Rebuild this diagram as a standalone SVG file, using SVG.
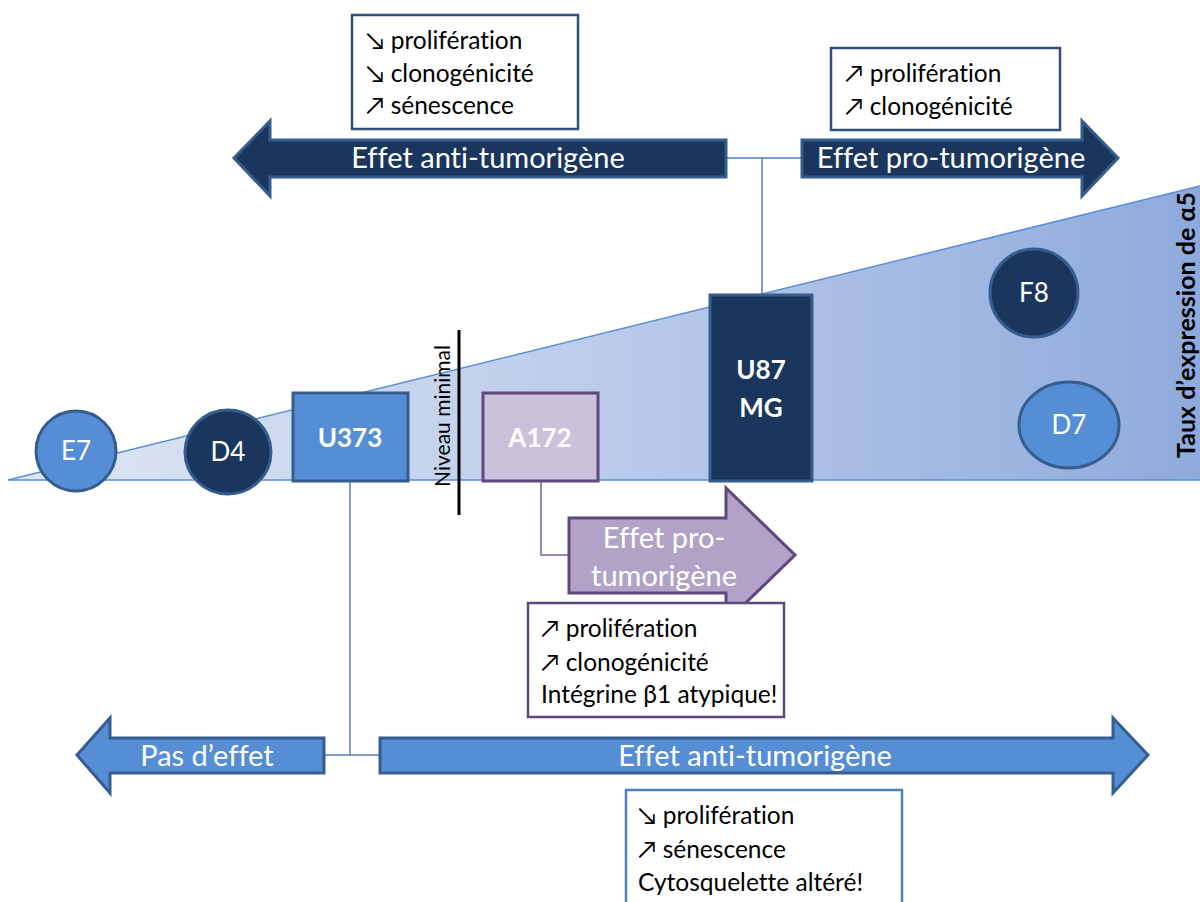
<svg xmlns="http://www.w3.org/2000/svg" width="1200" height="902" viewBox="0 0 1200 902">
<defs>
<linearGradient id="tri" x1="0" y1="0" x2="1" y2="0">
<stop offset="0" stop-color="#dfe7f5"/>
<stop offset="0.5" stop-color="#bccbea"/>
<stop offset="1" stop-color="#8eaadc"/>
</linearGradient>
<style>
text{font-family:Lato,"Liberation Sans",sans-serif;font-variant-ligatures:none;}
.b{fill:#000000;font-size:24.5px;}
.lbl{fill:#ffffff;text-anchor:middle;}
.node{fill:#ffffff;font-size:26px;text-anchor:middle;}
.box{fill:#ffffff;stroke-width:2.5;}
.conn{fill:none;stroke:#4f81bd;stroke-width:1.5;}
.dark{fill:#1b365d;stroke:#355d8f;stroke-width:3;}
.mid{fill:#558ed5;stroke:#355d8f;stroke-width:3;}
</style>
</defs>
<rect width="1200" height="902" fill="#ffffff"/>
<g id="triangle">
<polygon points="8,480 1200,186 1200,480" fill="url(#tri)"/>
<polyline points="8,480 1200,186" fill="none" stroke="#5b8fd6" stroke-width="1.5"/>
<line x1="8" y1="480" x2="1200" y2="480" stroke="#5b8fd6" stroke-width="1.5"/>
</g>
<g id="connectors">
<polyline class="conn" points="726,158 802,158"/>
<polyline class="conn" points="762,158 762,295"/>
<polyline class="conn" points="350,481 350,755"/>
<polyline class="conn" points="325,755 380,755"/>
<polyline points="541,481 541,555 570,555" fill="none" stroke="#7a5f9a" stroke-width="1.5"/>
</g>
<g id="arrow-anti-top">
<polygon class="dark" points="726,140 726,177 270,177 270,196 234,158 270,121 270,140"/>
<text class="lbl" x="488" y="168" font-size="29">Effet anti-tumorigène</text>
</g>
<g id="arrow-pro-top">
<polygon class="dark" points="802,140 1082,140 1082,121 1118,158 1082,196 1082,177 802,177"/>
<text class="lbl" x="951" y="168" font-size="29">Effet pro-tumorigène</text>
</g>
<g id="box-top-left">
<rect class="box" x="352" y="15" width="226" height="114" stroke="#2e4f7f"/>
<text class="b" x="366" y="49">↘ prolifération</text>
<text class="b" x="366" y="82">↘ clonogénicité</text>
<text class="b" x="366" y="114">↗ sénescence</text>
</g>
<g id="box-top-right">
<rect class="box" x="831" y="48" width="229" height="82" stroke="#2e4f7f"/>
<text class="b" x="845" y="82">↗ prolifération</text>
<text class="b" x="845" y="115">↗ clonogénicité</text>
</g>
<g id="E7">
<ellipse class="mid" cx="76" cy="451" rx="40" ry="40"/>
<text class="node" x="76" y="460">E7</text>
</g>
<g id="D4">
<ellipse class="dark" cx="228" cy="452" rx="43" ry="42"/>
<text class="node" x="228" y="461">D4</text>
</g>
<g id="U373">
<rect class="mid" x="293" y="393" width="115" height="88"/>
<text class="node" x="350" y="447" font-weight="bold">U373</text>
</g>
<g id="niveau">
<line x1="459" y1="330" x2="459" y2="515" stroke="#000" stroke-width="3"/>
<text x="443" y="416" transform="rotate(-90 443 416)" text-anchor="middle" font-size="21" fill="#000" dy="7">Niveau minimal</text>
</g>
<g id="A172">
<rect x="483" y="393" width="115" height="88" fill="#ccc1da" stroke="#5f497a" stroke-width="3"/>
<text class="node" x="540" y="447" font-weight="bold">A172</text>
</g>
<g id="U87MG">
<rect class="dark" x="710" y="295" width="102" height="186"/>
<text class="node" x="761" y="379" font-weight="bold">U87</text>
<text class="node" x="761" y="417" font-weight="bold">MG</text>
</g>
<g id="F8">
<circle class="dark" cx="1034" cy="293" r="44"/>
<text class="node" x="1034" y="302">F8</text>
</g>
<g id="D7">
<ellipse class="mid" cx="1069" cy="425" rx="50" ry="43"/>
<text class="node" x="1069" y="434">D7</text>
</g>
<g id="axis-label">
<text x="1187" y="325" transform="rotate(-90 1187 325)" text-anchor="middle" font-size="25" font-weight="bold" fill="#000" dy="8">Taux d’expression de α5</text>
</g>
<g id="arrow-pro-purple">
<polygon points="569,518 726,518 726,488 795,555 726,622 726,593 569,593" fill="#b3a2c7" stroke="#5f497a" stroke-width="3"/>
<text class="lbl" x="664" y="548" font-size="29">Effet pro-</text>
<text class="lbl" x="664" y="586" font-size="29">tumorigène</text>
</g>
<g id="box-purple">
<rect class="box" x="528" y="603" width="256" height="114" stroke="#5f497a"/>
<text class="b" x="541" y="637">↗ prolifération</text>
<text class="b" x="541" y="671">↗ clonogénicité</text>
<text class="b" x="541" y="703">Intégrine β1 atypique!</text>
</g>
<g id="arrow-pas">
<polygon class="mid" points="324,738 324,773 110,773 110,793 77,755 110,718 110,738" stroke="#2f5d8f"/>
<text class="lbl" x="207" y="766" font-size="29">Pas d’effet</text>
</g>
<g id="arrow-anti-bottom">
<polygon class="mid" points="380,738 1113,738 1113,718 1148,755 1113,793 1113,773 380,773" stroke="#2f5d8f"/>
<text class="lbl" x="755" y="766" font-size="29">Effet anti-tumorigène</text>
</g>
<g id="box-bottom">
<rect class="box" x="626" y="790" width="276" height="120" stroke="#4f81bd"/>
<text class="b" x="638" y="824">↘ prolifération</text>
<text class="b" x="638" y="858">↗ sénescence</text>
<text class="b" x="638" y="891">Cytosquelette altéré!</text>
</g>
</svg>
